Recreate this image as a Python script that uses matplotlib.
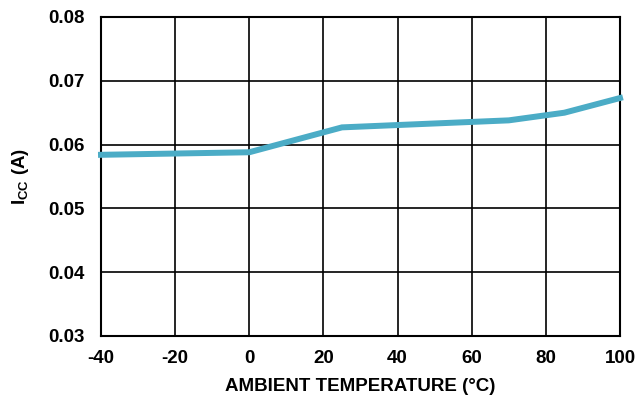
import matplotlib
matplotlib.use("Agg")
import matplotlib.pyplot as plt

temps = [-40, -20, 0, 25, 70, 85, 100]
icc = [0.0584, 0.0586, 0.0588, 0.0627, 0.0638, 0.0650, 0.0673]
xticks = [-40, -20, 0, 20, 40, 60, 80, 100]
yticks = [0.03, 0.04, 0.05, 0.06, 0.07, 0.08]

plt.rcParams['font.family'] = ['Liberation Sans', 'DejaVu Sans']
plt.rcParams['font.weight'] = 'bold'
plt.rcParams['mathtext.fontset'] = 'custom'
plt.rcParams['mathtext.rm'] = 'Liberation Sans:bold'
plt.rcParams['mathtext.default'] = 'rm'

fig = plt.figure(figsize=(6.36, 4.0), dpi=100)
ax = fig.add_axes([101/636, 1-336/400, (620-101)/636, (336-17)/400])

ax.plot(temps, icc, color='#4BACC6', linewidth=4.3, solid_joinstyle='miter', zorder=3, clip_on=False)

ax.set_xlim(-40, 100)
ax.set_ylim(0.03, 0.08)
ax.set_xticks(xticks)
ax.set_yticks(yticks)
ax.set_xticklabels([str(t) for t in xticks])
ax.set_yticklabels([f"{v:.2f}" for v in yticks])
ax.tick_params(length=0, labelsize=13.5)
ax.tick_params(axis='y', pad=12)
ax.tick_params(axis='x', pad=10)
for lab in ax.get_xticklabels() + ax.get_yticklabels():
    lab.set_fontweight('bold')
ax.grid(True, color='black', linewidth=1.2)
ax.set_axisbelow(True)
for s in ax.spines.values():
    s.set_color('black')
    s.set_linewidth(1.5)

ax.set_xlabel('AMBIENT TEMPERATURE (°C)', fontsize=13.5, fontweight='bold', labelpad=8)
ax.set_ylabel('$I_{CC}$ (A)', fontsize=13.5, fontweight='bold', labelpad=12)

fig.savefig('out.png', dpi=100)
